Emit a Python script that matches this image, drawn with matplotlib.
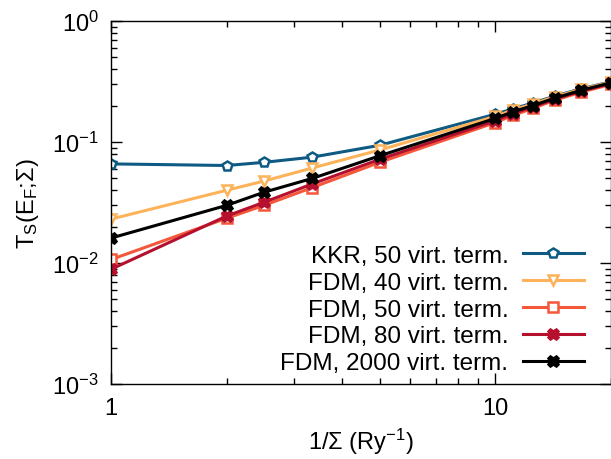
import matplotlib
matplotlib.use('Agg')
import matplotlib.pyplot as plt
from matplotlib.ticker import LogLocator, FixedLocator, NullFormatter

plt.rcParams['font.family'] = ['Liberation Sans', 'DejaVu Sans']
plt.rcParams['mathtext.fontset'] = 'custom'
plt.rcParams['mathtext.rm'] = 'Liberation Sans'
plt.rcParams['mathtext.it'] = 'Liberation Sans'

inv_sigma = [1, 2, 2.5, 10 / 3, 5, 10, 10 / 0.9, 12.5, 10 / 0.7, 10 / 0.6, 20]

kkr_50 = [0.066, 0.064, 0.068, 0.075, 0.094, 0.170, 0.188, 0.210, 0.240, 0.275, 0.315]
fdm_40 = [0.0231, 0.040, 0.0476, 0.061, 0.086, 0.163, 0.184, 0.206, 0.237, 0.272, 0.313]
fdm_50 = [0.0107, 0.0235, 0.030, 0.042, 0.068, 0.145, 0.166, 0.190, 0.222, 0.258, 0.300]
fdm_80 = [0.0089, 0.0245, 0.0318, 0.045, 0.072, 0.150, 0.172, 0.195, 0.227, 0.263, 0.305]
fdm_2000 = [0.0161, 0.030, 0.0385, 0.050, 0.077, 0.157, 0.178, 0.200, 0.231, 0.267, 0.309]

labels = ['KKR, 50 virt. term.', 'FDM, 40 virt. term.', 'FDM, 50 virt. term.',
          'FDM, 80 virt. term.', 'FDM, 2000 virt. term.']
colors = ['#0e5a82', '#fdb35a', '#f5573b', '#b5112e', '#000000']
markers = ['p', 'v', 's', 'X', 'X']
filled = [False, False, False, True, True]

fig = plt.figure(figsize=(6.11, 4.6), dpi=100)
ax = fig.add_axes([0.182, 0.163, 0.818, 0.789])

for ys, lab, c, m, f in zip([kkr_50, fdm_40, fdm_50, fdm_80, fdm_2000], labels, colors, markers, filled):
    ax.plot(inv_sigma, ys, color=c, lw=2.2, marker=m, markersize=7.5,
            markerfacecolor=c if f else 'white', markeredgecolor=c, markeredgewidth=1.8,
            label=lab)

ax.set_xscale('log')
ax.set_yscale('log')
ax.set_xlim(1, 20)
ax.set_ylim(1e-3, 1)
ax.set_xticks([1, 10])
ax.set_xticklabels(['1', '10'])
ax.xaxis.set_minor_locator(LogLocator(base=10, subs=range(2, 10)))
ax.xaxis.set_minor_formatter(NullFormatter())
ax.yaxis.set_major_locator(FixedLocator([1e-3, 1e-2, 1e-1, 1]))
ax.set_yticklabels(['10$^{-3}$', '10$^{-2}$', '10$^{-1}$', '10$^{0}$'])
ax.yaxis.set_minor_locator(LogLocator(base=10, subs=range(2, 10)))
ax.yaxis.set_minor_formatter(NullFormatter())

ax.tick_params(which='both', direction='in', top=True, right=True, labelsize=17, width=1)
ax.tick_params(which='major', length=8, pad=9)
ax.tick_params(which='minor', length=4)
for s in ax.spines.values():
    s.set_linewidth(1)

ax.set_xlabel('1/Σ (Ry$^{-1}$)', fontsize=17, labelpad=5)
ax.set_ylabel('T$_\\mathrm{S}$(E$_\\mathrm{F}$;Σ)', fontsize=17, labelpad=8)

ax.legend(loc='lower right', bbox_to_anchor=(0.965, 0.0), frameon=False, markerfirst=False,
          fontsize=17.5, handlelength=2.5, labelspacing=0.2, borderaxespad=0.0,
          handletextpad=0.6)

fig.savefig('out.png', dpi=100)
